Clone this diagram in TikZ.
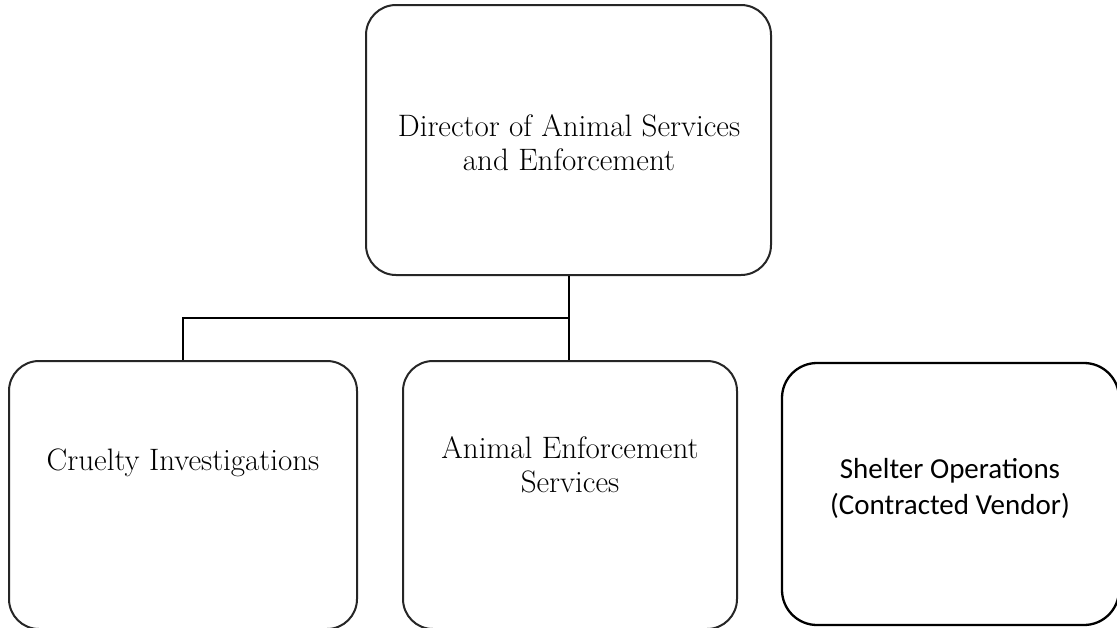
\documentclass[tikz,border=0pt]{standalone}
\usepackage{fontspec}
\newfontfamily\calib{Carlito}
\begin{document}
\begin{tikzpicture}[x=1pt,y=-1pt,
  orgbox/.style={draw=black!85,line width=2pt,rounded corners=30pt,inner sep=0pt},
  vendbox/.style={draw=black,line width=2.3pt,rounded corners=35pt,inner sep=0pt},
  serif/.style={align=center,font=\fontsize{31}{34}\selectfont},
  sans/.style={align=center,font=\calib\fontsize{29}{36}\selectfont},
  link/.style={draw=black,line width=2.5pt}]
\useasboundingbox (0,0) rectangle (1117,627);
\fill[white] (0,0) rectangle (1117,627);
% boxes
\node[orgbox,minimum width=405pt,minimum height=270pt] (dir) at (568.5,140) {};
\node[orgbox,minimum width=348pt,minimum height=268pt] (cru) at (183,495) {};
\node[orgbox,minimum width=334pt,minimum height=268pt] (aes) at (570,495) {};
\node[vendbox,minimum width=337pt,minimum height=262pt] (she) at (950.5,494) {};
% texts
\node[serif] (tdir) at (569,143) {Director of Animal Services\\and Enforcement};
\node[serif] (tcru) at (183,463) {Cruelty Investigations};
\node[serif] (taes) at (570,465) {Animal Enforcement\\Services};
\node[sans] (tshe) at (950,488) {Shelter Operations\\(Contracted Vendor)};
% connectors
\coordinate (j) at (569,318);
\draw[link] (dir.south -| j) -- (j) -- (j |- aes.north);
\draw[link] (j) -- (183,318) -- (cru.north);
\end{tikzpicture}
\end{document}
